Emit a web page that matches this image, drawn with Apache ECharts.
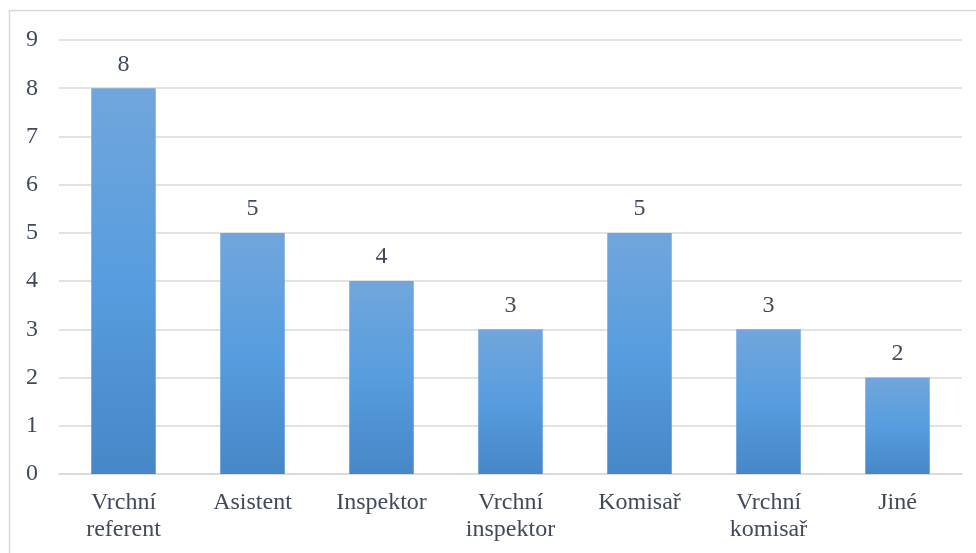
<!DOCTYPE html>
<html>
<head>
<meta charset="utf-8">
<style>
  html, body { margin: 0; padding: 0; background: #fff; }
  #chart { width: 976px; height: 553px; }
</style>
<script src="https://cdn.jsdelivr.net/npm/echarts@6/dist/echarts.min.js"></script>
</head>
<body>
<div id="chart"></div>
<script>
const categories = ['Vrchní\nreferent', 'Asistent', 'Inspektor', 'Vrchní\ninspektor', 'Komisař', 'Vrchní\nkomisař', 'Jiné']
const counts = [8, 5, 4, 3, 5, 3, 2]
const yTicks = [0, 1, 2, 3, 4, 5, 6, 7, 8, 9]

const textColor = '#404a5a'
const font = 'Liberation Serif'

const chart = echarts.init(document.getElementById('chart'))
chart.setOption({
    animation: false,
    textStyle: { fontFamily: font },
    graphic: [{
        type: 'rect',
        shape: { x: 9.5, y: 10.5, width: 975, height: 550 },
        style: { fill: 'none', stroke: '#d9d9d9', lineWidth: 1.5 }
    }],
    grid: { left: 59, right: 14, top: 40, bottom: 79 },
    xAxis: {
        type: 'category',
        data: categories,
        axisLine: { lineStyle: { color: '#d9d9d9', width: 1.5 } },
        axisTick: { show: false },
        axisLabel: { color: textColor, fontSize: 24, fontFamily: font, margin: 15, lineHeight: 27 }
    },
    yAxis: {
        type: 'value',
        min: yTicks[0],
        max: yTicks[yTicks.length - 1],
        interval: 1,
        axisLine: { show: false },
        axisTick: { show: false },
        splitLine: { lineStyle: { color: '#d9d9d9', width: 1.5 } },
        axisLabel: { color: textColor, fontSize: 24, fontFamily: font, margin: 21 }
    },
    series: [{
        type: 'bar',
        data: counts,
        barWidth: '50%',
        itemStyle: {
            color: new echarts.graphic.LinearGradient(0, 0, 0, 1, [
                { offset: 0, color: '#71a6dc' },
                { offset: 0.5, color: '#579ddf' },
                { offset: 1, color: '#4687c7' }
            ])
        },
        label: {
            show: true,
            position: 'top',
            distance: 12,
            color: textColor,
            fontSize: 24,
            fontFamily: font
        }
    }]
})
</script>
</body>
</html>
